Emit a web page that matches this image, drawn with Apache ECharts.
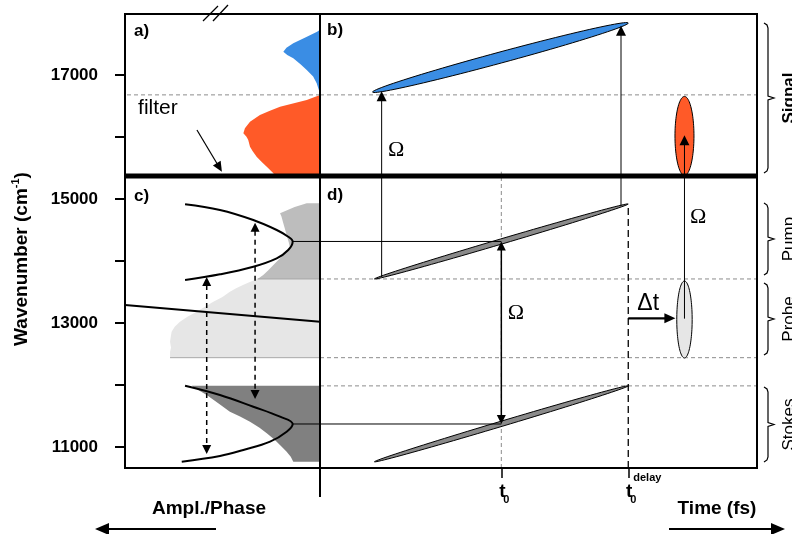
<!DOCTYPE html>
<html>
<head>
<meta charset="utf-8">
<script src="https://cdn.jsdelivr.net/npm/echarts@6.0.0/dist/echarts.min.js"></script>
<style>
html, body { margin: 0; padding: 0; background: #fff; }
#chart { width: 792px; height: 534px; }
</style>
</head>
<body>
<div id="chart"></div>
<script>
// ---------- axes ----------
const wnMin = 10660, wnMax = 17985;                 // wavenumber range (cm^-1)
const wnTicks = [11000, 12000, 13000, 14000, 15000, 16000, 17000];
const wnLabels = [11000, 13000, 15000, 17000];
const tMin = -100, tMax = 141;                      // time (fs), t0 = 0
const timeTicks = [0, 70];                          // t0 and delayed t0
const timeTickSup = ['', 'delay'];

// ---------- spectral boundaries (cm^-1) ----------
const detectionEdge = 15370;   // detected signal above, input pulses below
const filterEdge = 16680;
const pumpLow = 13710;
const probeLow = 12440;
const stokesHigh = 11985;

// ---------- left panels: [normalized amplitude/phase, wavenumber] ----------
const signalAntiStokes = [[0,17730],[0.015,17700],[0.07,17615],[0.137,17512],[0.172,17440],[0.188,17377],[0.168,17325],[0.137,17270],[0.10,17175],[0.068,17081],[0.035,16975],[0.017,16867],[0.006,16760],[0,16680]];
const signalFiltered = [[0,16680],[0.068,16597],[0.205,16489],[0.26,16420],[0.308,16355],[0.359,16247],[0.385,16140],[0.393,16060],[0.378,16010],[0.372,15975],[0.368,15952],[0.359,15844],[0.345,15770],[0.325,15683],[0.30,15600],[0.273,15521],[0.239,15415],[0.231,15370],[0,15370]];
const pumpSpectrum = [[0,14931],[0.068,14931],[0.13,14870],[0.205,14769],[0.198,14720],[0.19,14629],[0.18,14520],[0.171,14419],[0.16,14300],[0.154,14210],[0.17,14150],[0.188,14097],[0.215,14010],[0.239,13935],[0.265,13850],[0.291,13774],[0.32,13710],[0,13710]];
const probeSpectrum = [[0,13710],[0.32,13710],[0.36,13660],[0.395,13613],[0.43,13560],[0.462,13505],[0.50,13420],[0.547,13343],[0.59,13260],[0.632,13182],[0.68,13100],[0.718,13020],[0.745,12940],[0.761,12859],[0.765,12780],[0.769,12698],[0.764,12600],[0.769,12530],[0.769,12440],[0,12440]];
const stokesSpectrum = [[0,11988],[0.658,11988],[0.62,11910],[0.581,11838],[0.52,11700],[0.462,11569],[0.41,11490],[0.359,11407],[0.31,11310],[0.273,11220],[0.245,11150],[0.222,11085],[0.195,11000],[0.171,10924],[0.15,10840],[0.137,10762],[0,10762]];
const pumpPhase = [[0.692,14915],[0.513,14823],[0.342,14661],[0.222,14500],[0.163,14392],[0.140,14315],[0.163,14177],[0.222,14043],[0.342,13908],[0.513,13785],[0.692,13693]];
const stokesPhase = [[0.692,11988],[0.513,11838],[0.342,11649],[0.205,11488],[0.140,11370],[0.171,11246],[0.256,11085],[0.393,10951],[0.513,10854],[0.709,10762]];
const probePhase = [[1,13290],[0,13020]];
const phaseMatchedPairs = [[0.581,13742,0.581,10886],[0.333,14618,0.333,11773]];
const pumpCentre = 14315, stokesCentre = 11370;
const filterArrow = [[0.631,16113,0.503,15440]];
const filterLabel = [[0.831,16468]];

// ---------- right panels: pulses [t start, wn start, t end, wn end] ----------
const pumpPulse = [[-70,13710,70,14920]];
const stokesPulse = [[-70,10760,70,11985]];
const signalPulse = [[-71,16725,70,17840]];
const gatedSignal = [[101,15380,101,16655]];
const probePulse = [[101,12435,101,13677]];
const pumpToSignal = [[-66,13741,-66,16740],[66,14885,66,17795]];
const probeToSignal = [[101,13070,101,16030]];
const omegaAtT0 = [[0,pumpCentre,0,stokesCentre]];
const delayShift = [[70,13075,96,13075]];
const omegaLabels = [[-58,15791],[8,13161],[108.5,14710]];
const deltaTLabel = [[81,13306]];

// ---------- spectral bands marked on the right ----------
const bandRanges = [[15420,17840],[13774,14935],[12483,13645],[10757,11967]];
const bandNames = ['Signal','Pump','Probe','Stokes'];

const FONT = '"Liberation Sans", Arial, sans-serif';
const SERIF = '"Liberation Serif", "Times New Roman", serif';
const BLACK = '#000';
const DASH_GREY = '#8c8c8c';

function lineSeries(gi, data, color, width, dash, z, smooth) {
  return {
    type: 'line', xAxisIndex: gi, yAxisIndex: gi, data: data,
    symbol: 'none', showSymbol: false, silent: true, clip: true,
    smooth: smooth || false, z: z || 2,
    lineStyle: { color: color, width: width, type: dash || 'solid', cap: 'butt' }
  };
}

// Filled spectrum outline: the whole point list forms one polygon
function polygonSeries(gi, pts, fill, z) {
  return {
    type: 'custom', xAxisIndex: gi, yAxisIndex: gi, data: [pts[0]], clip: true, silent: true, z: z || 1,
    renderItem: function (params, api) {
      const points = pts.map(function (p) { return api.coord(p); });
      return { type: 'polygon', shape: { points: points }, style: { fill: fill } };
    }
  };
}

// Chirped pulse drawn as an ellipse spanning its start and end (time, wavenumber)
function pulseSeries(seg, fill, halfWidth) {
  return {
    type: 'custom', xAxisIndex: 1, yAxisIndex: 1, data: seg, clip: false, silent: true, z: 3,
    renderItem: function (params, api) {
      const a = api.coord([api.value(0), api.value(1)]);
      const b = api.coord([api.value(2), api.value(3)]);
      const cx = (a[0] + b[0]) / 2, cy = (a[1] + b[1]) / 2;
      const dx = (b[0] - a[0]) / 2, dy = (b[1] - a[1]) / 2;
      const L = Math.hypot(dx, dy) || 1;
      const nx = -dy / L * halfWidth, ny = dx / L * halfWidth;
      const points = [];
      for (let i = 0; i < 96; i++) {
        const f = i / 96 * 2 * Math.PI;
        points.push([cx + Math.cos(f) * dx + Math.sin(f) * nx, cy + Math.cos(f) * dy + Math.sin(f) * ny]);
      }
      return { type: 'polygon', shape: { points: points }, style: { fill: fill, stroke: BLACK, lineWidth: 1 } };
    }
  };
}

function arrowSeries(gi, segs, o) {
  return {
    type: 'custom', xAxisIndex: gi, yAxisIndex: gi, data: segs, clip: false, silent: true, z: o.z || 6,
    renderItem: function (params, api) {
      const a = api.coord([api.value(0), api.value(1)]);
      const b = api.coord([api.value(2), api.value(3)]);
      const L = Math.hypot(b[0] - a[0], b[1] - a[1]) || 1;
      const ux = (b[0] - a[0]) / L, uy = (b[1] - a[1]) / L;
      const hl = o.headLen, hw = o.headHalf;
      function head(p, dx, dy) {
        return { type: 'polygon', shape: { points: [
          [p[0], p[1]],
          [p[0] - dx * hl - dy * hw, p[1] - dy * hl + dx * hw],
          [p[0] - dx * hl + dy * hw, p[1] - dy * hl - dx * hw]] },
          style: { fill: BLACK } };
      }
      const s = o.both ? [a[0] + ux * hl * 0.9, a[1] + uy * hl * 0.9] : a;
      const e = [b[0] - ux * hl * 0.9, b[1] - uy * hl * 0.9];
      const children = [{ type: 'line', shape: { x1: s[0], y1: s[1], x2: e[0], y2: e[1] },
        style: { stroke: BLACK, lineWidth: o.width, lineDash: o.dash || null } }, head(b, ux, uy)];
      if (o.both) children.push(head(a, -ux, -uy));
      return { type: 'group', children: children };
    }
  };
}

function textSeries(gi, pts, text, fontSize, family) {
  return {
    type: 'custom', xAxisIndex: gi, yAxisIndex: gi, data: pts, clip: false, silent: true, z: 7,
    renderItem: function (params, api) {
      const p = api.coord([api.value(0), api.value(1)]);
      return { type: 'text', x: p[0], y: p[1],
        style: { text: text, fontSize: fontSize, fontFamily: family, fill: BLACK, align: 'center', verticalAlign: 'middle' } };
    }
  };
}

const series = [
  // spectra (left)
  polygonSeries(0, signalAntiStokes, '#3a8de4'),
  polygonSeries(0, signalFiltered, '#ff5a28'),
  polygonSeries(0, pumpSpectrum, '#bdbdbd'),
  polygonSeries(0, probeSpectrum, '#e6e6e6'),
  polygonSeries(0, stokesSpectrum, '#808080'),
  // outline of the probe band
  lineSeries(0, [[0.32, pumpLow], [0, pumpLow]], '#a8a8a8', 1, null, 1),
  lineSeries(0, [[0.769, probeLow], [0, probeLow]], '#a8a8a8', 1, null, 1),
  // dashed guides
  lineSeries(0, [[0, filterEdge], [1, filterEdge]], DASH_GREY, 1, [4, 3]),
  lineSeries(1, [[tMin, filterEdge], [tMax, filterEdge]], DASH_GREY, 1, [4, 3]),
  lineSeries(1, [[tMin, pumpLow], [tMax, pumpLow]], DASH_GREY, 1, [4, 3]),
  lineSeries(1, [[tMin, probeLow], [tMax, probeLow]], DASH_GREY, 1, [4, 3]),
  lineSeries(1, [[tMin, stokesHigh], [tMax, stokesHigh]], DASH_GREY, 1, [4, 3]),
  lineSeries(1, [[timeTicks[0], wnMin], [timeTicks[0], 15440]], DASH_GREY, 1, [4, 3]),
  lineSeries(1, [[timeTicks[1], wnMin], [timeTicks[1], pumpPulse[0][3]]], BLACK, 1.3, [7, 4]),
  // spectral phases
  lineSeries(0, pumpPhase, BLACK, 2, null, 4, 0.4),
  lineSeries(0, stokesPhase, BLACK, 2, null, 4, 0.4),
  lineSeries(0, probePhase, BLACK, 2, null, 4),
  // frequencies present at t0
  lineSeries(0, [[0.140, pumpCentre], [0, pumpCentre]], BLACK, 1, null, 4),
  lineSeries(1, [[tMin, pumpCentre], [0, pumpCentre]], BLACK, 1, null, 4),
  lineSeries(0, [[0.140, stokesCentre], [0, stokesCentre]], BLACK, 1, null, 4),
  lineSeries(1, [[tMin, stokesCentre], [0, stokesCentre]], BLACK, 1, null, 4),
  // pulses
  pulseSeries(pumpPulse, '#8a8a8a', 2.6),
  pulseSeries(stokesPulse, '#8a8a8a', 2.6),
  pulseSeries(signalPulse, '#3a8de4', 5.5),
  pulseSeries(gatedSignal, '#ff5a28', 9.5),
  pulseSeries(probePulse, '#e6e6e6', 7.7),
  // detection boundary
  lineSeries(0, [[0, detectionEdge], [1, detectionEdge]], BLACK, 5, null, 5),
  lineSeries(1, [[tMin, detectionEdge], [tMax, detectionEdge]], BLACK, 5, null, 5),
  // arrows
  arrowSeries(0, phaseMatchedPairs, { width: 1.5, dash: [5, 4], both: true, headLen: 9, headHalf: 4.5 }),
  arrowSeries(0, filterArrow, { width: 1.2, headLen: 10, headHalf: 4.5 }),
  arrowSeries(1, pumpToSignal, { width: 1, headLen: 10, headHalf: 5 }),
  arrowSeries(1, probeToSignal, { width: 1, headLen: 10, headHalf: 5 }),
  arrowSeries(1, omegaAtT0, { width: 1.5, both: true, headLen: 9, headHalf: 4.5 }),
  arrowSeries(1, delayShift, { width: 2.2, headLen: 11, headHalf: 5 }),
  // labels
  textSeries(1, omegaLabels, 'Ω', 22, SERIF),
  textSeries(1, deltaTLabel, 'Δt', 23, FONT),
  textSeries(0, filterLabel, 'filter', 21, FONT),
  // band brackets
  {
    type: 'custom', xAxisIndex: 1, yAxisIndex: 1, data: bandRanges, clip: false, silent: true, z: 7,
    renderItem: function (params, api) {
      const top = api.coord([tMax, api.value(1)]);
      const bot = api.coord([tMax, api.value(0)]);
      const x = top[0] + 11, ym = (top[1] + bot[1]) / 2;
      const i = params.dataIndex;
      return { type: 'group', children: [
        { type: 'polyline', shape: { points: [[x - 4, top[1]], [x - 1, top[1] + 2], [x, top[1] + 5], [x, ym - 2], [x + 6, ym], [x, ym + 2], [x, bot[1] - 5], [x - 1, bot[1] - 2], [x - 4, bot[1]]] },
          style: { stroke: BLACK, lineWidth: 1.2, fill: null } },
        { type: 'text', x: x + 21, y: ym, rotation: Math.PI / 2,
          style: { text: bandNames[i], fontSize: 17, fontWeight: i === 0 ? 'bold' : 'normal', fontFamily: FONT,
            fill: BLACK, align: 'center', verticalAlign: 'middle' } }
      ] };
    }
  },
  // time tick labels
  {
    type: 'custom', xAxisIndex: 1, yAxisIndex: 1, data: timeTicks.map(function (t) { return [t, wnMin]; }),
    clip: false, silent: true, z: 7,
    renderItem: function (params, api) {
      const p = api.coord([api.value(0), api.value(1)]);
      const children = [
        { type: 'text', x: p[0] + 1, y: p[1] + 33, style: { text: 't', fontSize: 19, fontWeight: 'bold', fontFamily: FONT, fill: BLACK, align: 'center', verticalAlign: 'bottom' } },
        { type: 'text', x: p[0] + 2, y: p[1] + 37, style: { text: '0', fontSize: 11, fontWeight: 'bold', fontFamily: FONT, fill: BLACK, align: 'left', verticalAlign: 'bottom' } }
      ];
      const sup = timeTickSup[params.dataIndex];
      if (sup) children.push({ type: 'text', x: p[0] + 5, y: p[1] + 15, style: { text: sup, fontSize: 11, fontWeight: 'bold', fontFamily: FONT, fill: BLACK, align: 'left', verticalAlign: 'bottom' } });
      return { type: 'group', children: children };
    }
  }
];

const option = {
  animation: false,
  backgroundColor: '#fff',
  textStyle: { fontFamily: FONT },
  grid: [
    { left: 125, top: 14, width: 195, height: 454, show: true, borderColor: BLACK, borderWidth: 2, backgroundColor: 'transparent', z: 10 },
    { left: 320, top: 14, width: 437, height: 454, show: true, borderColor: BLACK, borderWidth: 2, backgroundColor: 'transparent', z: 10 }
  ],
  xAxis: [
    { gridIndex: 0, type: 'value', min: 0, max: 1, inverse: true,
      axisLine: { show: false, onZero: false }, splitLine: { show: false }, axisLabel: { show: false },
      axisTick: { show: true, customValues: [0], length: 29, lineStyle: { color: BLACK, width: 2 } } },
    { gridIndex: 1, type: 'value', min: tMin, max: tMax,
      axisLine: { show: false, onZero: false }, splitLine: { show: false }, axisLabel: { show: false },
      axisTick: { show: true, customValues: timeTicks, length: 10, lineStyle: { color: BLACK, width: 1.5 } } }
  ],
  yAxis: [
    { gridIndex: 0, type: 'value', min: wnMin, max: wnMax,
      axisLine: { show: false, onZero: false }, splitLine: { show: false },
      axisTick: { show: true, customValues: wnTicks, length: 10, lineStyle: { color: BLACK, width: 2 } },
      axisLabel: { customValues: wnLabels, margin: 27, color: BLACK, fontSize: 17, fontWeight: 'bold', fontFamily: FONT,
        formatter: function (v) { return String(v); } } },
    { gridIndex: 1, type: 'value', min: wnMin, max: wnMax, show: false,
      axisLine: { show: false, onZero: false }, axisTick: { show: false }, axisLabel: { show: false }, splitLine: { show: false } }
  ],
  series: series,
  graphic: { elements: [
    { type: 'text', x: 22, y: 259, rotation: Math.PI / 2, z: 20,
      style: { text: 'Wavenumber (cm{sup|-1})', fontSize: 19, fontWeight: 'bold', fontFamily: FONT, fill: BLACK,
        align: 'center', verticalAlign: 'middle', lineHeight: 24,
        rich: { sup: { fontSize: 11, fontWeight: 'bold', fontFamily: FONT, fill: BLACK, verticalAlign: 'top', lineHeight: 12 } } } },
    { type: 'text', x: 134, y: 31, z: 20, style: { text: 'a)', fontSize: 17, fontWeight: 'bold', fontFamily: FONT, fill: BLACK, verticalAlign: 'middle' } },
    { type: 'text', x: 327, y: 30, z: 20, style: { text: 'b)', fontSize: 17, fontWeight: 'bold', fontFamily: FONT, fill: BLACK, verticalAlign: 'middle' } },
    { type: 'text', x: 134, y: 196, z: 20, style: { text: 'c)', fontSize: 17, fontWeight: 'bold', fontFamily: FONT, fill: BLACK, verticalAlign: 'middle' } },
    { type: 'text', x: 327, y: 195, z: 20, style: { text: 'd)', fontSize: 17, fontWeight: 'bold', fontFamily: FONT, fill: BLACK, verticalAlign: 'middle' } },
    // axis break marks
    { type: 'line', z: 20, shape: { x1: 203, y1: 21, x2: 218, y2: 6 }, style: { stroke: BLACK, lineWidth: 1.3 } },
    { type: 'line', z: 20, shape: { x1: 213, y1: 21, x2: 228, y2: 5 }, style: { stroke: BLACK, lineWidth: 1.3 } },
    // axis directions
    { type: 'text', x: 209, y: 509, z: 20, style: { text: 'Ampl./Phase', fontSize: 19, fontWeight: 'bold', fontFamily: FONT, fill: BLACK, align: 'center', verticalAlign: 'middle' } },
    { type: 'line', z: 20, shape: { x1: 106, y1: 529, x2: 216, y2: 529 }, style: { stroke: BLACK, lineWidth: 2 } },
    { type: 'polygon', z: 20, shape: { points: [[95, 529], [109, 523], [109, 535]] }, style: { fill: BLACK } },
    { type: 'text', x: 717, y: 509, z: 20, style: { text: 'Time (fs)', fontSize: 19, fontWeight: 'bold', fontFamily: FONT, fill: BLACK, align: 'center', verticalAlign: 'middle' } },
    { type: 'line', z: 20, shape: { x1: 669, y1: 529, x2: 772, y2: 529 }, style: { stroke: BLACK, lineWidth: 2 } },
    { type: 'polygon', z: 20, shape: { points: [[785, 529], [771, 523], [771, 535]] }, style: { fill: BLACK } }
  ] }
};

const chart = echarts.init(document.getElementById('chart'), null, { renderer: 'canvas' });
chart.setOption(option);
</script>
</body>
</html>
